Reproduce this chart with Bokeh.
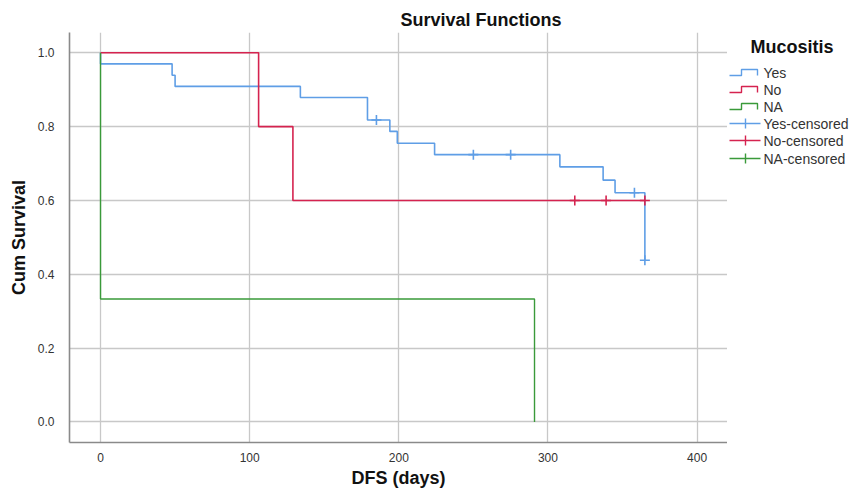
from bokeh.plotting import figure
from bokeh.models import Range1d, FixedTicker, NumeralTickFormatter
from bokeh.layouts import row
from bokeh.embed import file_html
from bokeh.resources import INLINE
from bokeh.core.properties import value

# ---------------- data ----------------
yes_t = [0, 0, 48, 50, 134, 179, 194, 199, 224, 308, 337, 345, 365]
yes_s = [1.0, 0.970, 0.939, 0.909, 0.879, 0.818, 0.787, 0.755, 0.724, 0.691, 0.655, 0.621, 0.438]
yes_cens_t = [185, 250, 275, 358, 365]
yes_cens_s = [0.818, 0.724, 0.724, 0.621, 0.438]

no_t = [0, 106, 129, 365]
no_s = [1.0, 0.8, 0.6, 0.6]
no_cens_t = [318, 339, 365]
no_cens_s = [0.6, 0.6, 0.6]

na_t = [0, 0, 291]
na_s = [1.0, 0.333, 0.0]

x_ticks = [0, 100, 200, 300, 400]
y_ticks = [0.0, 0.2, 0.4, 0.6, 0.8, 1.0]

legend_title = "Mucositis"
legend_labels = ["Yes", "No", "NA", "Yes-censored", "No-censored", "NA-censored"]

BLUE = "#5f9ee6"
RED = "#d5234f"
GREEN = "#3a9a3a"
colors = [BLUE, RED, GREEN]
FONT = "Liberation Sans"

TOP, BOTTOM, H = 32, 50, 492
MAIN_W, LEG_W = 727, 128

# ---------------- main plot ----------------
p = figure(width=MAIN_W, height=H, output_backend="svg", toolbar_location=None,
           x_range=Range1d(-20.8, 420.4), y_range=Range1d(-0.0558, 1.055),
           min_border_left=69, min_border_top=TOP, min_border_bottom=BOTTOM, min_border_right=0)
p.outline_line_color = None
p.background_fill_color = "white"
p.border_fill_color = "white"

p.title.text = "Survival Functions"
p.title.align = "left"
p.title.offset = 331
p.title.standoff = 6
p.title.text_font = FONT
p.title.text_font_size = "18px"
p.title.text_font_style = "bold"
p.title.text_color = "#111111"

for ax in (p.xaxis[0], p.yaxis[0]):
    ax.axis_line_color = "#8a8a8a"
    ax.axis_line_width = 1.6
    ax.major_tick_line_color = None
    ax.minor_tick_line_color = None
    ax.major_label_text_font = FONT
    ax.major_label_text_font_size = "12px"
    ax.major_label_text_color = "#333333"
    ax.axis_label_text_font = FONT
    ax.axis_label_text_font_size = "18px"
    ax.axis_label_text_font_style = "bold"
    ax.axis_label_text_color = "#111111"

p.xaxis.ticker = FixedTicker(ticks=x_ticks)
p.yaxis.ticker = FixedTicker(ticks=y_ticks)
p.yaxis.formatter = NumeralTickFormatter(format="0.0")
p.xaxis.axis_label = "DFS (days)"
p.yaxis.axis_label = "Cum Survival"
p.xaxis.major_label_standoff = 4
p.xaxis.axis_label_standoff = 3
p.yaxis.major_label_standoff = 9
p.yaxis.axis_label_standoff = 6

p.xgrid.ticker = FixedTicker(ticks=x_ticks)
p.ygrid.ticker = FixedTicker(ticks=y_ticks)
for g in (p.xgrid[0], p.ygrid[0]):
    g.grid_line_color = "#c8c8c8"
    g.grid_line_width = 1.3

p.step(yes_t, yes_s, mode="after", line_color=BLUE, line_width=1.6)
p.step(no_t, no_s, mode="after", line_color=RED, line_width=1.6)
p.step(na_t, na_s, mode="after", line_color=GREEN, line_width=1.4)

p.scatter(yes_cens_t, yes_cens_s, marker="cross", size=10, line_color=BLUE, line_width=1.6)
p.scatter(no_cens_t, no_cens_s, marker="cross", size=10, line_color=RED, line_width=1.6)

# ---------------- legend panel ----------------
lg = figure(width=LEG_W, height=H, output_backend="svg", toolbar_location=None,
            x_range=Range1d(0, LEG_W), y_range=Range1d(H - BOTTOM, TOP),
            min_border_left=0, min_border_right=0, min_border_top=TOP, min_border_bottom=BOTTOM)
lg.axis.visible = False
lg.grid.visible = False
lg.outline_line_color = None

lg.text(x=[23], y=[46], text=[legend_title], text_font=value(FONT), text_font_size="18px",
        text_font_style="bold", text_color="#111111", text_baseline="middle")

row_y = [72, 89, 106, 123, 140, 158]
lab_x = [36] * len(legend_labels)
lg.text(x=lab_x, y=row_y, text=legend_labels, text_font=value(FONT), text_font_size="14px",
        text_color="#333333", text_baseline="middle")

for i in range(3):
    yb = row_y[i] + 3
    yt = row_y[i] - 3
    lg.line([2, 14, 14, 30, 30], [yb, yb, yt, yt, yb], line_color=colors[i], line_width=1.4)
    yc = row_y[i + 3]
    lg.line([2, 33], [yc, yc], line_color=colors[i], line_width=1.4)
    lg.line([18, 18], [yc - 5, yc + 5], line_color=colors[i], line_width=1.4)

layout = row(p, lg)
open("out.html", "w").write(file_html(layout, INLINE))
